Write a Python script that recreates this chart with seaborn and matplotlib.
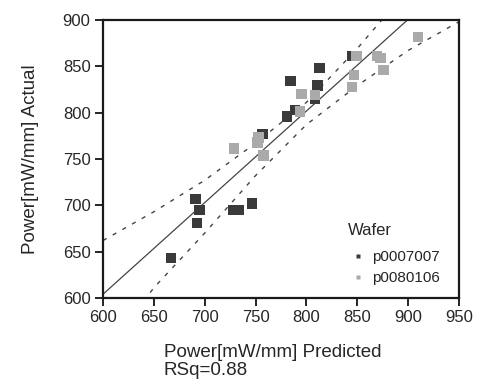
import matplotlib
matplotlib.use("Agg")
import matplotlib.pyplot as plt
import seaborn as sns
import numpy as np
import pandas as pd

# values
dark_pred = [667, 691, 695, 692.5, 728, 733, 746.5, 757, 781, 789, 784.5, 808.5, 811, 812.7, 845]
dark_act = [643, 707, 695, 681, 695, 695, 702, 777, 796, 803, 834, 814.5, 829.5, 848, 861]
light_pred = [729, 752, 753, 758, 795, 808.5, 793.7, 849.5, 846.8, 845, 869.4, 872.7, 876, 910]
light_act = [761, 768, 773, 753.6, 820, 819, 801, 861, 840.7, 827.4, 861, 858.7, 846, 881.7]
wafers = ["p0007007", "p0080106"]

# confidence curves
band_x = [600, 650, 700, 750, 800, 850, 900, 950]
band_upper = [662, 693, 727, 767, 811, 869, 933, 1000]
band_lower = [539, 611, 670, 732, 787, 829, 867, 898]

df = pd.DataFrame({
    "Predicted": dark_pred + light_pred,
    "Actual": dark_act + light_act,
    "Wafer": [wafers[0]] * len(dark_pred) + [wafers[1]] * len(light_pred),
})

sns.set_style("ticks")
plt.rcParams["font.family"] = ["Liberation Sans", "DejaVu Sans"]

fig = plt.figure(figsize=(4.8, 3.83), dpi=100)
ax = fig.add_axes([0.2146, 0.222, 0.7414, 0.726])

# regression line of actual on predicted
slope, icpt = np.polyfit(df["Predicted"], df["Actual"], 1)
xs = np.array([600, 950])
ax.plot(xs, slope * xs + icpt, color="#444444", lw=0.9, zorder=1)

sns.lineplot(x=band_x, y=band_upper, ax=ax, color="#444444", lw=1,
             linestyle=(0, (3, 5)), zorder=1)
sns.lineplot(x=band_x, y=band_lower, ax=ax, color="#444444", lw=1,
             linestyle=(0, (3, 5)), zorder=1)

sns.scatterplot(data=df, x="Predicted", y="Actual", hue="Wafer",
                palette=["#3a3a3a", "#aaaaaa"], marker="s", s=58,
                edgecolor="none", ax=ax, zorder=3)

ax.set_xlim(600, 950)
ax.set_ylim(600, 900)
ax.set_xticks(range(600, 951, 50))
ax.set_yticks(range(600, 901, 50))
ax.tick_params(labelsize=12, length=5.5, width=1.2, color="black")
for sp in ax.spines.values():
    sp.set_linewidth(1.6)
    sp.set_color("#1a1a1a")

ax.set_xlabel("Power[mW/mm] Predicted\nRSq=0.88", fontsize=13.5,
              loc="left", linespacing=1.05)
ax.xaxis.set_label_coords(0.17, -0.165, transform=ax.transAxes)
ax.xaxis.label.set_va("top")
ax.set_ylabel("Power[mW/mm] Actual", fontsize=13.5)
ax.yaxis.set_label_coords(-0.18, 0.5)

leg = ax.legend(title="Wafer", loc="lower left", frameon=False,
                fontsize=11, title_fontsize=12, markerscale=0.45,
                handlelength=1.4, handletextpad=0.2, borderaxespad=0,
                labelspacing=0.45, alignment="left",
                bbox_to_anchor=(0.67, 0.025))
leg._legend_box.sep = 9

fig.savefig("out.png", dpi=100)
